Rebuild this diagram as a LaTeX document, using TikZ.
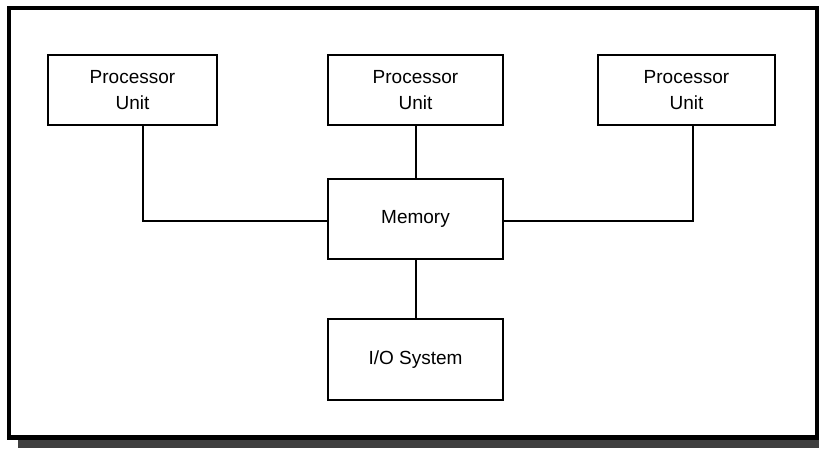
\documentclass[tikz,border=0pt]{standalone}
\usepackage{fontspec}
\setmainfont{Liberation Sans}
\definecolor{shadowgray}{HTML}{404040}
\begin{document}
\begin{tikzpicture}[x=1pt,y=-1pt,
  unitbox/.style={draw=black, line width=2pt, inner sep=0pt, align=center,
    font=\fontsize{19}{26}\selectfont, minimum height=70pt},
  wire/.style={draw=black, line width=2pt}]
\useasboundingbox (0,0) rectangle (819,448);
% shadow and frame
\fill[shadowgray] (18,440) rectangle (819,448);
\draw[line width=4.5pt] (9,8) rectangle (816.8,437.5);
% units
\node[unitbox, minimum width=169pt] (p1) at (132.5,90) {Processor\\Unit};
\node[unitbox, minimum width=175pt] (p2) at (415.5,90) {Processor\\Unit};
\node[unitbox, minimum width=177pt] (p3) at (686.5,90) {Processor\\Unit};
\node[unitbox, minimum width=175pt, minimum height=80pt] (mem) at (415.5,219) {Memory};
\node[unitbox, minimum width=175pt, minimum height=81pt] (io) at (415.5,359.5) {I/O System};
% connectors
\draw[wire] ([xshift=10.5pt]p1.south) |- ([yshift=-2pt]mem.west);
\draw[wire] ([xshift=6.5pt]p3.south) |- ([yshift=-2pt]mem.east);
\draw[wire] (p2.south) -- (mem.north);
\draw[wire] (mem.south) -- (io.north);
\end{tikzpicture}
\end{document}
